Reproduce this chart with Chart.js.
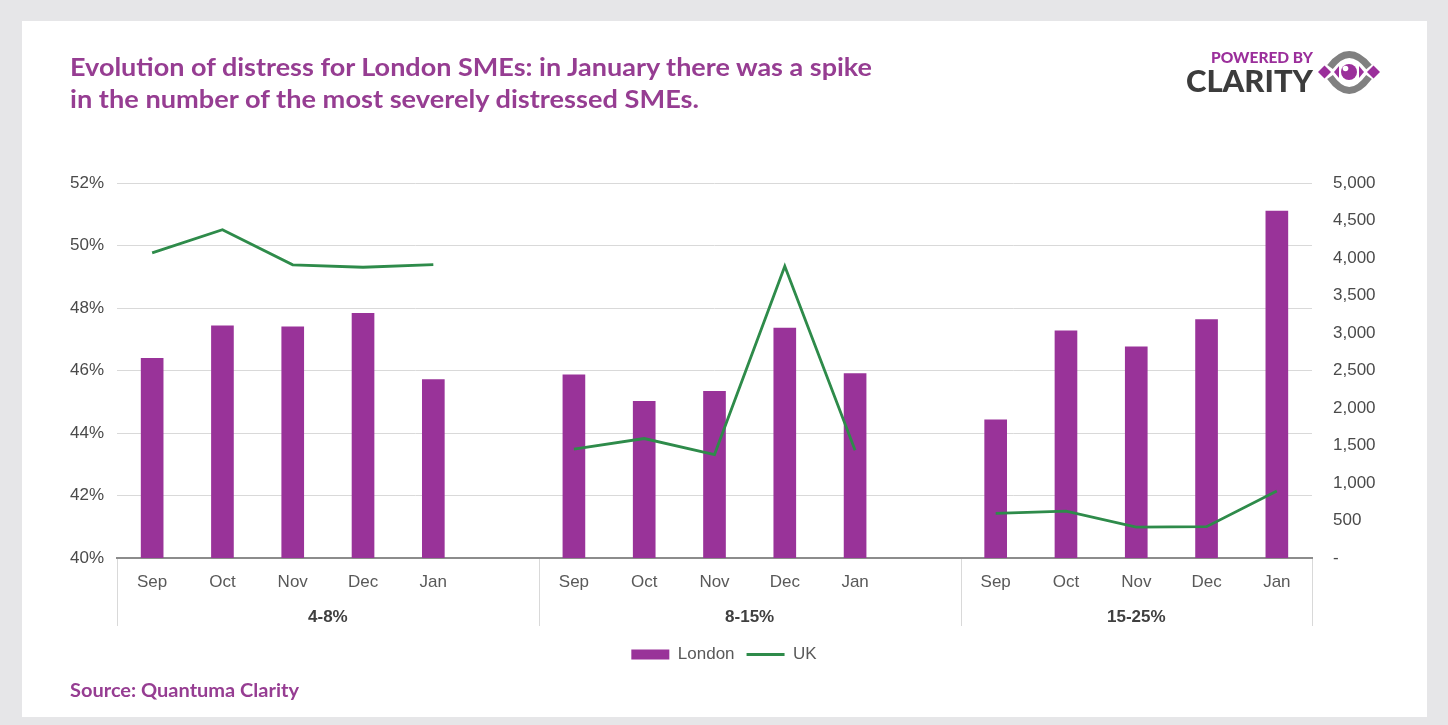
<!DOCTYPE html>
<html>
<head>
<meta charset="utf-8">
<script src="https://cdn.jsdelivr.net/npm/chart.js@4.4.1/dist/chart.umd.min.js"></script>
<style>
  html, body { margin: 0; padding: 0; width: 1448px; height: 725px; overflow: hidden; background: #e6e6e8; }
  #panel { position: absolute; left: 22px; top: 21px; width: 1405px; height: 696px; background: #fff; }
  #wrap { position: absolute; left: 0; top: 0; width: 1448px; height: 725px; }
  #overlay { position: absolute; left: 0; top: 0; pointer-events: none; }
</style>
</head>
<body>
<div id="panel"></div>
<div id="wrap"><canvas id="chart" width="1448" height="725"></canvas></div>
<svg id="overlay" width="1448" height="725" xmlns="http://www.w3.org/2000/svg">
  <g font-family="Lato, 'Open Sans', sans-serif" font-weight="700" fill="#963d92">
    <text x="70" y="76" font-size="25" textLength="802" lengthAdjust="spacingAndGlyphs">Evolution of distress for London SMEs: in January there was a spike</text>
    <text x="70" y="108" font-size="25" textLength="629" lengthAdjust="spacingAndGlyphs">in the number of the most severely distressed SMEs.</text>
    <text x="70" y="697" font-size="18" textLength="229" lengthAdjust="spacingAndGlyphs">Source: Quantuma Clarity</text>
  </g>
  <!-- logo -->
  <text x="1211" y="63" font-family="Lato, sans-serif" font-weight="900" font-size="15" fill="#9b2f9b" textLength="102" lengthAdjust="spacingAndGlyphs">POWERED BY</text>
  <text x="1186" y="92" font-family="Lato, sans-serif" font-weight="900" font-size="30" fill="#3c3c3c" textLength="127" lengthAdjust="spacingAndGlyphs">CLARITY</text>
  <g>
    <path d="M1330,67 Q1349,42 1369,67" fill="none" stroke="#808080" stroke-width="7"/>
    <path d="M1330,77 Q1349,104 1369,77" fill="none" stroke="#808080" stroke-width="7"/>
    <polygon points="1318,72 1324.5,65.5 1331,72 1324.5,78.5" fill="#9b2f9b"/>
    <polygon points="1367,72 1373.5,65.5 1380,72 1373.5,78.5" fill="#9b2f9b"/>
    <polygon points="1334,72 1339,66 1339,78" fill="#9b2f9b"/>
    <polygon points="1364,72 1359,66 1359,78" fill="#9b2f9b"/>
    <circle cx="1349" cy="72" r="8" fill="#9b2f9b"/>
    <circle cx="1345.5" cy="68.5" r="2.8" fill="#fff"/>
  </g>
</svg>
<script>
// distress bands, each with the same run of months
const months = ['Sep', 'Oct', 'Nov', 'Dec', 'Jan'];
const bands = ['4-8%', '8-15%', '15-25%'];

// London: share of SMEs in distress (%), one array per band
const london48 = [46.39, 47.43, 47.40, 47.83, 45.71];
const london815 = [45.86, 45.01, 45.33, 47.36, 45.90];
const london1525 = [44.42, 47.27, 46.76, 47.63, 51.10];

// UK: number of distressed SMEs, one array per band
const uk48 = [4068, 4378, 3909, 3877, 3913];
const uk815 = [1451, 1593, 1380, 3890, 1437];
const uk1525 = [595, 625, 413, 417, 892];

const londonByBand = [london48, london815, london1525];
const ukByBand = [uk48, uk815, uk1525];

// flatten into one category axis, with an empty slot between bands
const labels = [];
const londonData = [];
const ukData = [];
const bandEdges = [-0.5];
bands.forEach((band, i) => {
  months.forEach((m, j) => {
    labels.push(m);
    londonData.push(londonByBand[i][j]);
    ukData.push(ukByBand[i][j]);
  });
  if (i < bands.length - 1) {
    labels.push('');
    londonData.push(null);
    ukData.push(null);
  }
  bandEdges.push(labels.length - 0.5);
});

const FONT = '"Liberation Sans", Arial, sans-serif';
Chart.defaults.font.family = FONT;
Chart.defaults.font.size = 17;
Chart.defaults.color = '#595959';

// second row of the x axis: band names and separators
const bandAxis = {
  id: 'bandAxis',
  afterDraw(chart) {
    const x = chart.scales.x;
    const ctx = chart.ctx;
    const bottom = chart.chartArea.bottom;
    ctx.save();
    ctx.strokeStyle = '#d9d9d9';
    ctx.lineWidth = 1;
    bandEdges.forEach(v => {
      const px = Math.round(x.getPixelForValue(v)) + 0.5;
      ctx.beginPath();
      ctx.moveTo(px, bottom + 1);
      ctx.lineTo(px, bottom + 68);
      ctx.stroke();
    });
    ctx.font = 'bold 17px ' + FONT;
    ctx.fillStyle = '#404040';
    ctx.textAlign = 'center';
    ctx.textBaseline = 'middle';
    bands.forEach((band, i) => {
      const c = (x.getPixelForValue(bandEdges[i]) + x.getPixelForValue(bandEdges[i + 1])) / 2;
      ctx.fillText(band, c, bottom + 59);
    });
    ctx.restore();
  }
};

new Chart(document.getElementById('chart'), {
  data: {
    labels: labels,
    datasets: [
      {
        type: 'bar',
        label: 'London',
        data: londonData,
        backgroundColor: '#993399',
        barThickness: 22,
        yAxisID: 'y',
        order: 1
      },
      {
        type: 'line',
        label: 'UK',
        data: ukData,
        borderColor: '#2e8b4a',
        backgroundColor: '#2e8b4a',
        borderWidth: 2.8,
        pointRadius: 0,
        tension: 0,
        spanGaps: false,
        yAxisID: 'y1',
        order: 0
      }
    ]
  },
  options: {
    responsive: false,
    animation: false,
    layout: { padding: { top: 183, left: 0, right: 0, bottom: 52 } },
    plugins: {
      tooltip: { enabled: false },
      legend: {
        position: 'bottom',
        labels: {
          usePointStyle: true,
          pointStyleWidth: 38,
          boxHeight: 10,
          padding: 12,
          color: '#595959',
          generateLabels(chart) {
            const items = Chart.defaults.plugins.legend.labels.generateLabels(chart);
            items.forEach(it => { it.pointStyle = it.datasetIndex === 0 ? 'rect' : 'line'; });
            return items.sort((a, b) => a.datasetIndex - b.datasetIndex);
          }
        }
      }
    },
    scales: {
      x: {
        grid: { display: false, drawTicks: false },
        border: { display: true, color: '#8c8c8c', width: 2 },
        ticks: { padding: 14, color: '#595959', maxRotation: 0, autoSkip: false },
        afterFit(scale) { scale.height = 76; }
      },
      y: {
        position: 'left',
        min: 40,
        max: 52,
        grid: { color: '#d9d9d9', lineWidth: 1, drawTicks: false },
        border: { display: false },
        ticks: { stepSize: 2, padding: 13, color: '#4a4a4a', callback: v => v + '%' },
        afterFit(scale) { scale.width = 117; }
      },
      y1: {
        position: 'right',
        min: 0,
        max: 5000,
        grid: { display: false, drawTicks: false },
        border: { display: false },
        ticks: {
          stepSize: 500,
          padding: 21,
          color: '#4a4a4a',
          callback: v => v === 0 ? '-' : v.toLocaleString('en-US')
        },
        afterFit(scale) { scale.width = 136; }
      }
    }
  },
  plugins: [bandAxis]
});
</script>
</body>
</html>
